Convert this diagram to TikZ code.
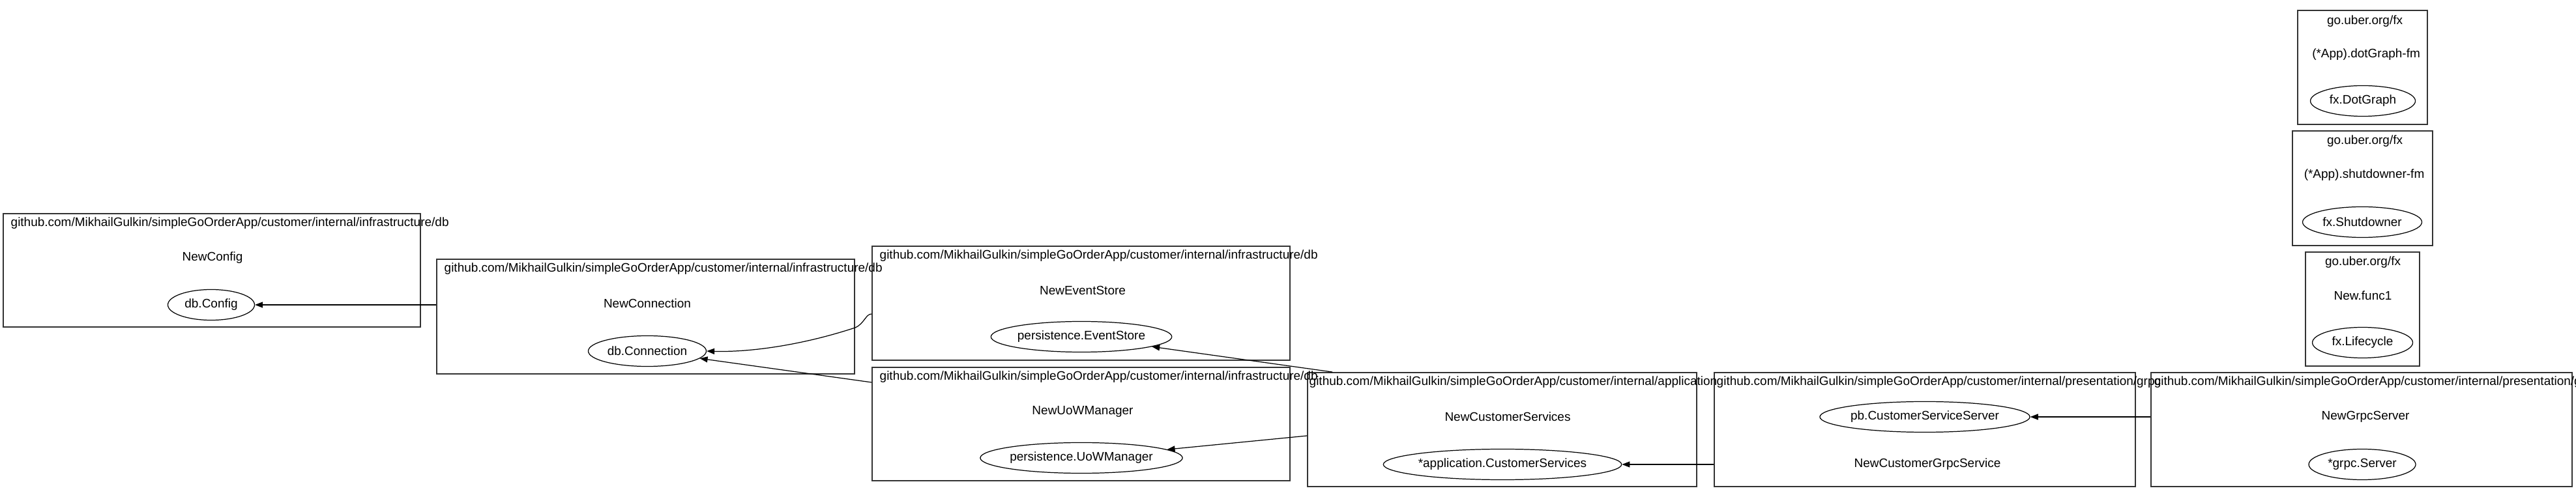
\documentclass[tikz,border=0pt]{standalone}
\usepackage{fontspec}
\setmainfont{Liberation Sans}
\usepackage{tikz}
\usetikzlibrary{arrows.meta,shapes.geometric}

\begin{document}
\begin{tikzpicture}[
  every node/.style={font=\fontsize{5.4}{6}\selectfont},
  pkg/.style={rectangle,draw=black!80,line width=0.5pt,inner sep=0pt},
  ttl/.style={anchor=west,inner sep=0pt},
  fn/.style={inner sep=0pt},
  typ/.style={ellipse,draw,line width=0.35pt,minimum height=0.47cm,inner sep=0pt},
  dep/.style={-{Triangle[length=1.2mm,width=0.9mm]},line width=0.35pt}]
\useasboundingbox (0,0) rectangle (39.52,-7.63);
% constructor boxes
\node[pkg,minimum width=6.40cm,minimum height=1.74cm] (cfg) at (3.25,-4.15) {};
\node[pkg,minimum width=6.41cm,minimum height=1.76cm] (conn) at (9.905,-4.86) {};
\node[pkg,minimum width=6.41cm,minimum height=1.75cm] (evst) at (16.585,-4.655) {};
\node[pkg,minimum width=6.41cm,minimum height=1.74cm] (uow) at (16.585,-6.51) {};
\node[pkg,minimum width=5.97cm,minimum height=1.75cm] (app) at (23.045,-6.595) {};
\node[pkg,minimum width=6.46cm,minimum height=1.75cm] (grpcsvc) at (29.53,-6.595) {};
\node[pkg,minimum width=6.46cm,minimum height=1.75cm] (grpcsrv) at (36.23,-6.595) {};
\node[pkg,minimum width=1.99cm,minimum height=1.75cm] (fxdot) at (36.245,-1.035) {};
\node[pkg,minimum width=2.15cm,minimum height=1.76cm] (fxshut) at (36.245,-2.89) {};
\node[pkg,minimum width=1.75cm,minimum height=1.75cm] (fxlife) at (36.245,-4.745) {};

% package titles
\node[ttl] (cfg-t) at (0.16,-3.43) {github.com/MikhailGulkin/simpleGoOrderApp/customer/internal/infrastructure/db};
\node[ttl] (conn-t) at (6.81,-4.13) {github.com/MikhailGulkin/simpleGoOrderApp/customer/internal/infrastructure/db};
\node[ttl] (evst-t) at (13.49,-3.93) {github.com/MikhailGulkin/simpleGoOrderApp/customer/internal/infrastructure/db};
\node[ttl] (uow-t) at (13.49,-5.79) {github.com/MikhailGulkin/simpleGoOrderApp/customer/internal/infrastructure/db};
\node[ttl] (app-t) at (20.08,-5.87) {github.com/MikhailGulkin/simpleGoOrderApp/customer/internal/application};
\node[ttl] (grpcsvc-t) at (26.33,-5.87) {github.com/MikhailGulkin/simpleGoOrderApp/customer/internal/presentation/grpc};
\node[ttl] (grpcsrv-t) at (33.04,-5.87) {github.com/MikhailGulkin/simpleGoOrderApp/customer/internal/presentation/grpc};
\node[fn] (fxdot-t) at (36.28,-0.33) {go.uber.org/fx};
\node[fn] (fxshut-t) at (36.28,-2.17) {go.uber.org/fx};
\node[fn] (fxlife-t) at (36.25,-4.03) {go.uber.org/fx};

% constructor names
\node[fn] (cfg-f) at (3.26,-3.96) {NewConfig};
\node[fn] (conn-f) at (9.93,-4.66) {NewConnection};
\node[fn] (evst-f) at (16.61,-4.46) {NewEventStore};
\node[fn] (uow-f) at (16.61,-6.32) {NewUoWManager};
\node[fn] (app-f) at (23.13,-6.40) {NewCustomerServices};
\node[fn] (grpcsvc-f) at (29.57,-7.13) {NewCustomerGrpcService};
\node[fn] (grpcsrv-f) at (36.29,-6.40) {NewGrpcServer};
\node[fn] (fxdot-f) at (36.30,-0.84) {(*App).dotGraph-fm};
\node[fn] (fxshut-f) at (36.27,-2.69) {(*App).shutdowner-fm};
\node[fn] (fxlife-f) at (36.25,-4.54) {New.func1};

% provided types
\node[typ,minimum width=1.33cm] (dbcfg) at (3.24,-4.68) {db.Config};
\node[typ,minimum width=1.81cm] (dbconn) at (9.93,-5.39) {db.Connection};
\node[typ,minimum width=2.64cm] (evstore) at (16.59,-5.17) {persistence.EventStore};
\node[typ,minimum width=2.97cm] (uowmgr) at (16.59,-7.03) {persistence.UoWManager};
\node[typ,minimum width=3.54cm] (appsvc) at (23.05,-7.13) {*application.CustomerServices};
\node[typ,minimum width=3.08cm] (pbsrv) at (29.53,-6.40) {pb.CustomerServiceServer};
\node[typ,minimum width=1.64cm] (grpcserver) at (36.24,-7.13) {*grpc.Server};
\node[typ,minimum width=1.61cm] (dotgraph) at (36.25,-1.55) {fx.DotGraph};
\node[typ,minimum width=1.83cm] (shutdn) at (36.24,-3.41) {fx.Shutdowner};
\node[typ,minimum width=1.54cm] (lifecyc) at (36.245,-5.26) {fx.Lifecycle};

% dependencies
\draw[dep] (conn.west |- dbcfg) -- (dbcfg);
\draw[dep] ([yshift=-0.165cm]evst.west) .. controls (13.28,-4.82) and (13.26,-4.97) .. (13.12,-5.03)
  .. controls (12.30,-5.30) and (11.50,-5.41) .. (dbconn.east);
\draw[dep] ([yshift=0.64cm]uow.west) -- (dbconn);
\draw[dep] ([xshift=0.39cm]app.north west) -- (evstore);
\draw[dep] ([yshift=-0.095cm]app.west) -- (uowmgr);
\draw[dep] (grpcsvc.west |- appsvc) -- (appsvc);
\draw[dep] (grpcsrv.west |- pbsrv) -- (pbsrv);
\end{tikzpicture}
\end{document}
